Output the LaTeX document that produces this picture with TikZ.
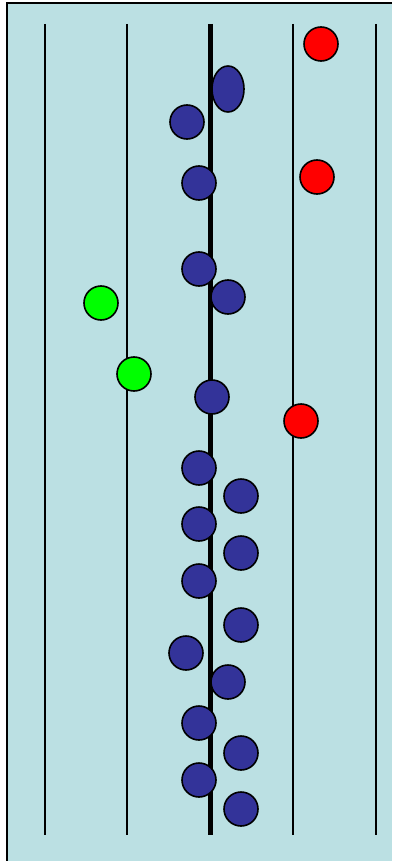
\documentclass[tikz,border=0pt]{standalone}
\usepackage{tikz}
\usetikzlibrary{shapes.geometric}
\definecolor{lanebg}{HTML}{BBE0E3}
\definecolor{molblue}{HTML}{333399}

\begin{document}
\begin{tikzpicture}[
  x=1pt, y=-1pt,
  lane/.style={draw=black, line width=1.2pt},
  axis/.style={draw=black, line width=5pt},
  mol/.style={circle, draw=black, line width=1.6pt, minimum size=34pt,
              inner sep=0pt},
  blue mol/.style={mol, fill=molblue},
  red mol/.style={mol, fill=red},
  green mol/.style={mol, fill=green}
]
\useasboundingbox (0,0) rectangle (392,861);
\fill[white] (0,0) rectangle (392,861);
\fill[lanebg] (7,3) rectangle (392,861);
\draw[black, line width=1.8pt] (7,861) -- (7,3) -- (392,3);

% lanes
\foreach \x in {45, 127, 293, 376}
  \draw[lane] (\x,24) -- (\x,835);
\draw[axis] (210,24) -- (210,835);

% blue molecules on and around the axis
\node[blue mol, ellipse, minimum width=32pt, minimum height=46pt] (b0) at (228,89) {};
\foreach \x/\y [count=\i] in {187/122, 199/183, 199/269, 228/297, 212/397,
                              199/468, 241/496, 199/524, 241/553, 199/581,
                              241/625, 186/653, 228/682, 199/723, 241/753,
                              199/780, 241/809}
  \node[blue mol] (b\i) at (\x,\y) {};

% red molecules
\foreach \x/\y [count=\i] in {321/44, 317/177, 301/421}
  \node[red mol] (r\i) at (\x,\y) {};

% green molecules
\node[green mol] (g1) at (101,303) {};
\node[green mol] (g2) at (134,374) {};
\end{tikzpicture}
\end{document}
